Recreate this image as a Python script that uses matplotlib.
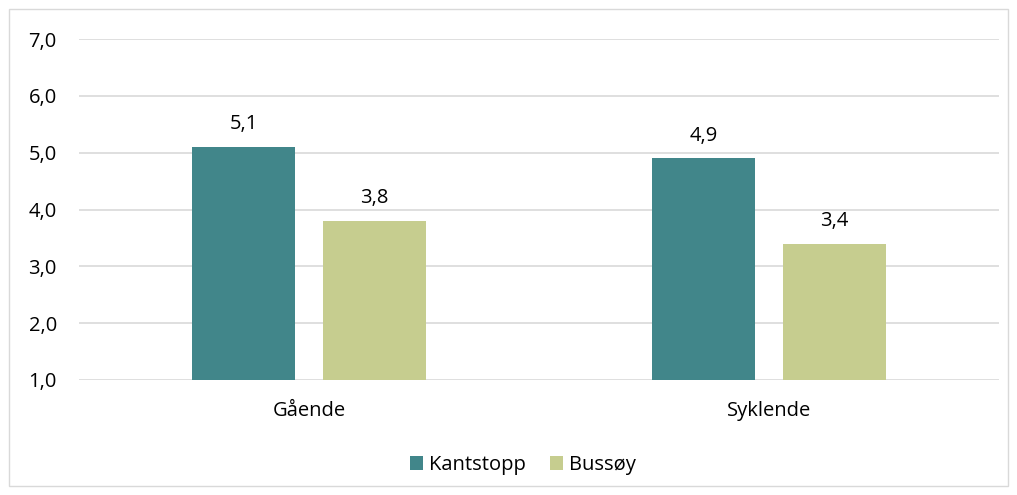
import matplotlib
matplotlib.use("Agg")
import matplotlib.pyplot as plt
from matplotlib.patches import Rectangle
import numpy as np

categories = ["Gående", "Syklende"]
series_names = ["Kantstopp", "Bussøy"]
kantstopp = [5.1, 4.9]
bussoy = [3.8, 3.4]
yticks = [1.0, 2.0, 3.0, 4.0, 5.0, 6.0, 7.0]

colors = ["#41868A", "#C6CD8F"]

plt.rcParams["font.family"] = ["Open Sans", "DejaVu Sans"]
FS = 14.5

W, H = 1017, 495
fig = plt.figure(figsize=(W / 100, H / 100), dpi=100)

# outer chart border
fig.patches.append(Rectangle((9 / W, 9 / H), 999 / W, 477 / H, transform=fig.transFigure,
                             fill=False, edgecolor="#D9D9D9", linewidth=1.0))

left, right = 79 / W, 999 / W
top, bottom = 1 - 39 / H, 1 - 380 / H
ax = fig.add_axes([left, bottom, right - left, top - bottom])

x = np.arange(len(categories))
bw = 0.224
off = 0.1424
b1 = ax.bar(x - off, [v - 1 for v in kantstopp], bottom=1, width=bw, color=colors[0],
            label=series_names[0], zorder=3)
b2 = ax.bar(x + off, [v - 1 for v in bussoy], bottom=1, width=bw, color=colors[1],
            label=series_names[1], zorder=3)

for xs, vals in ((x - off, kantstopp), (x + off, bussoy)):
    for xi, v in zip(xs, vals):
        ax.annotate(f"{v:.1f}".replace(".", ","), (xi, v), xytext=(0, 9),
                    textcoords="offset points", ha="center", va="bottom",
                    fontsize=FS, color="#000000")

ax.set_xlim(-0.5, 1.5)
ax.set_ylim(1, 7)
ax.set_yticks(yticks)
ax.set_yticklabels([f"{t:.1f}".replace(".", ",") for t in yticks], fontsize=FS)
ax.set_xticks(x)
ax.set_xticklabels(categories, fontsize=FS)
ax.tick_params(axis="both", length=0)
ax.tick_params(axis="x", pad=15)
ax.tick_params(axis="y", pad=16)
ax.grid(axis="y", color="#D9D9D9", linewidth=1.2, zorder=0)
for s in ax.spines.values():
    s.set_visible(False)

fig.legend(handles=[b1, b2], labels=series_names, loc="center",
           bbox_to_anchor=(523 / W, 1 - 465 / H), ncol=2, frameon=False,
           fontsize=FS, handlelength=0.65, handleheight=0.65, handletextpad=0.3,
           columnspacing=1.2)

fig.savefig("out.png", dpi=100)
